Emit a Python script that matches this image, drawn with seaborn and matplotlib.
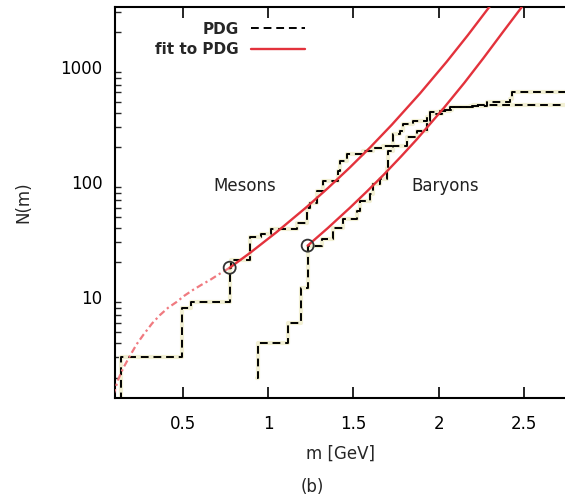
import numpy as np
import pandas as pd
import matplotlib
matplotlib.use("Agg")
import matplotlib.pyplot as plt
from matplotlib.lines import Line2D
import seaborn as sns

# ---- data ----
meson_m = [0.135, 0.1396, 0.494, 0.548, 0.775, 0.782, 0.892, 0.958, 1.02, 1.17, 1.227,
           1.246, 1.285, 1.322, 1.41, 1.422, 1.461, 1.557, 1.616, 1.674, 1.733, 1.774,
           1.791, 1.85, 1.932, 1.95, 2.008, 2.067, 2.184, 2.282, 2.419, 2.43, 2.75]
meson_N = [1, 3, 8, 9, 18, 21, 33, 35, 39, 44, 60,
           66, 83, 102, 125, 152, 176, 186, 199, 206, 262, 279,
           320, 340, 364, 403, 411, 445, 461, 493, 527, 600, 600]

baryon_m = [0.938, 0.9396, 1.116, 1.193, 1.232, 1.318, 1.381, 1.44, 1.52, 1.54, 1.598,
            1.616, 1.657, 1.696, 1.70, 1.733, 1.813, 1.872, 1.93, 1.95, 2.02, 2.08,
            2.20, 2.28, 2.75]
baryon_N = [2, 4, 6, 12, 28, 32, 40, 48, 56, 68, 78,
            96, 106, 133, 186, 206, 244, 279, 341, 389, 420, 448,
            463, 470, 470]

meson_fit_low_m = [0.093, 0.12, 0.15, 0.191, 0.23, 0.269, 0.32, 0.367, 0.415, 0.465,
                   0.51, 0.562, 0.61, 0.66, 0.715, 0.775]
meson_fit_low_N = [1.4, 1.9, 2.4, 3.1, 3.9, 4.7, 5.9, 7.0, 8.1, 9.1,
                   10.3, 11.6, 12.8, 14.1, 15.9, 18]
meson_fit_m = [0.775, 0.894, 1.05, 1.227, 1.35, 1.48, 1.6, 1.725, 1.89, 2.047, 2.17, 2.30]
meson_fit_N = [18, 24.2, 36.7, 60.8, 88.3, 134, 201, 314, 587, 1109, 1879, 3365]
baryon_fit_m = [1.232, 1.35, 1.48, 1.58, 1.676, 1.78, 1.872, 2.028, 2.15, 2.262, 2.38, 2.487]
baryon_fit_N = [28, 39.8, 59.8, 83, 115, 167, 235, 436, 726, 1191, 2042, 3310]

anchor_m = [0.775, 1.232]
anchor_N = [18, 28]

x_ticks = [0.5, 1, 1.5, 2, 2.5]
x_ticklabels = ["0.5", "1", "1.5", "2", "2.5"]
y_ticks = [10, 100, 1000]
y_ticklabels = ["10", "100", "1000"]

# ---- figure ----
sns.set_theme(style="white")
plt.rcParams['font.family'] = ['DejaVu Sans']

fig = plt.figure(figsize=(5.65, 4.99), dpi=100)
ax = fig.add_axes([115 / 565, 101 / 499, 450 / 565, 391 / 499])

red = "#e3323c"
red_light = "#f07a80"

df_mes = pd.DataFrame({"m": meson_m, "N": meson_N})
df_bar = pd.DataFrame({"m": baryon_m, "N": baryon_N})

for df in (df_mes, df_bar):
    sns.lineplot(data=df, x="m", y="N", ax=ax, drawstyle="steps-post", color="#f2f0d4",
                 lw=3.0, estimator=None, sort=False, zorder=2)
    sns.lineplot(data=df, x="m", y="N", ax=ax, drawstyle="steps-post", color="black",
                 lw=1.4, linestyle=(0, (4, 2.5)), estimator=None, sort=False, zorder=3)

sns.lineplot(x=meson_fit_low_m, y=meson_fit_low_N, ax=ax, color=red_light, lw=1.6,
             linestyle=(0, (3, 1.5, 1, 1.5)), estimator=None, sort=False, zorder=4)
sns.lineplot(x=meson_fit_m, y=meson_fit_N, ax=ax, color=red, lw=1.7,
             estimator=None, sort=False, zorder=4)
sns.lineplot(x=baryon_fit_m, y=baryon_fit_N, ax=ax, color=red, lw=1.7,
             estimator=None, sort=False, zorder=4)
sns.scatterplot(x=anchor_m, y=anchor_N, ax=ax, marker="o", s=75, facecolor="none",
                edgecolor="#333333", linewidth=1.3, zorder=5)

ax.set_yscale("log")
ax.set_xlim(0.103, 2.74)
ax.set_ylim(1.33, 3310)

ax.set_xticks(x_ticks)
ax.set_xticklabels(x_ticklabels)
ax.set_yticks(y_ticks)
ax.set_yticklabels(y_ticklabels)
ax.yaxis.set_minor_locator(matplotlib.ticker.LogLocator(base=10, subs=np.arange(2, 10)))
ax.yaxis.set_minor_formatter(matplotlib.ticker.NullFormatter())

ax.tick_params(axis="both", which="major", direction="in", length=8, width=1.2,
               labelsize=12, colors="black")
ax.tick_params(axis="x", which="major", pad=12)
ax.tick_params(axis="y", which="major", pad=9)
ax.tick_params(axis="y", which="minor", direction="in", length=4, width=1.0, left=True)
ax.tick_params(axis="x", top=True, bottom=True)
ax.tick_params(axis="y", right=False)

for side in ("left", "bottom", "top"):
    ax.spines[side].set_color("black")
    ax.spines[side].set_linewidth(1.5)
ax.spines["right"].set_visible(False)

ax.set_xlabel("m [GeV]", fontsize=12, labelpad=9)
ax.set_ylabel("N(m)", fontsize=12, labelpad=20)

ax.text(0.865, 92, "Mesons", fontsize=12, ha="center", va="center", color="#222222")
ax.text(2.04, 92, "Baryons", fontsize=12, ha="center", va="center", color="#222222")

handles = [Line2D([], [], color="black", lw=1.4, linestyle=(0, (4, 2.5))),
           Line2D([], [], color=red, lw=1.7)]
ax.legend(handles, ["PDG", "fit to PDG"], loc="upper right", bbox_to_anchor=(0.435, 0.978),
          frameon=False, markerfirst=False, handlelength=3.5,
          borderaxespad=0, labelspacing=0.35, handletextpad=0.8,
          prop={"weight": "bold", "size": 11})

fig.text(312 / 565, 1 - 487 / 499, "(b)", fontsize=12, ha="center", va="center")

fig.savefig("out.png", dpi=100)
